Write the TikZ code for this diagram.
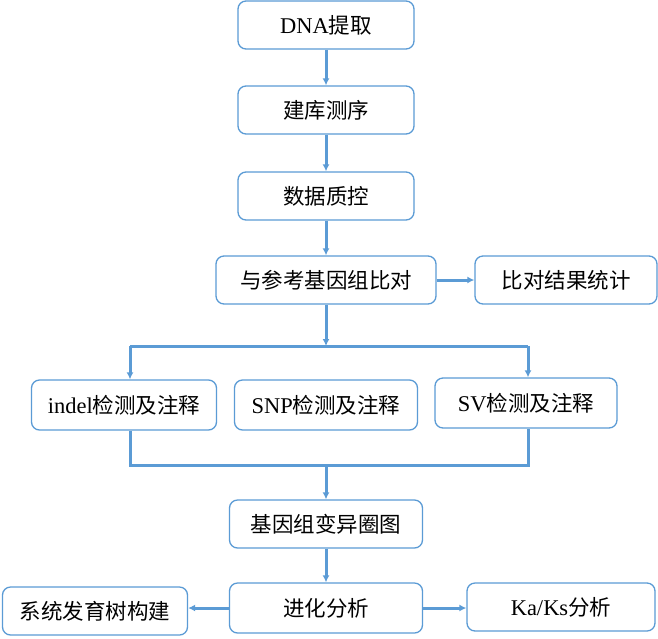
\documentclass[tikz,border=0pt]{standalone}
\usepackage{fontspec}
\setmainfont{Liberation Serif}
\newfontfamily\cjk{Noto Sans CJK SC}
\usetikzlibrary{arrows.meta}
\definecolor{flowblue}{RGB}{91,155,213}
\tikzset{
    stepbox/.style={draw=flowblue, line width=1.3pt, rounded corners=8pt, fill=white,
        minimum height=48pt, inner sep=0pt, font=\fontsize{22.5}{26}\selectfont},
    flow/.style={draw=flowblue, line width=3pt, -{Latex[length=7pt,width=7pt]}},
    link/.style={draw=flowblue, line width=3pt},
}

\begin{document}
\begin{tikzpicture}[x=1pt,y=-1pt]
    \useasboundingbox (0,0) rectangle (658,638);
    % main column
    \node[stepbox, minimum width=176pt] (dna) at (326,25) {DNA{\cjk\fontsize{21.5}{26}\selectfont 提取}};
    \node[stepbox, minimum width=176pt] (lib) at (326,110) {\cjk\fontsize{21.5}{26}\selectfont 建库测序};
    \node[stepbox, minimum width=176pt] (qc) at (326,196) {\cjk\fontsize{21.5}{26}\selectfont 数据质控};
    \node[stepbox, minimum width=220pt] (align) at (326,280) {\cjk\fontsize{21.5}{26}\selectfont 与参考基因组比对};
    \node[stepbox, minimum width=182pt] (stat) at (566,280) {\cjk\fontsize{21.5}{26}\selectfont 比对结果统计};
    % variant calling
    \node[stepbox, minimum width=185pt, minimum height=50pt] (indel) at (124,405) {indel{\cjk\fontsize{21.5}{26}\selectfont 检测及注释}};
    \node[stepbox, minimum width=183pt, minimum height=50pt] (snp) at (326,405) {SNP{\cjk\fontsize{21.5}{26}\selectfont 检测及注释}};
    \node[stepbox, minimum width=182pt, minimum height=50pt] (sv) at (526,403) {SV{\cjk\fontsize{21.5}{26}\selectfont 检测及注释}};
    \coordinate (split) at (326,346);
    \coordinate (splitL) at (130,346);
    \coordinate (splitR) at (528,346);
    \coordinate (merge) at (326,465);
    % downstream
    \node[stepbox, minimum width=193pt] (circos) at (326,524) {\cjk\fontsize{21.5}{26}\selectfont 基因组变异圈图};
    \node[stepbox, minimum width=193pt, minimum height=50pt] (evol) at (326,608) {\cjk\fontsize{21.5}{26}\selectfont 进化分析};
    \node[stepbox, minimum width=185pt] (tree) at (95,611) {\cjk\fontsize{21.5}{26}\selectfont 系统发育树构建};
    \node[stepbox, minimum width=188pt] (kaks) at (561,607) {Ka/Ks{\cjk\fontsize{21.5}{26}\selectfont 分析}};
    % connectors
    \draw[flow] (dna) -- (lib);
    \draw[flow] (lib) -- (qc);
    \draw[flow] (qc) -- (align);
    \draw[flow] (align) -- (stat);
    \draw[flow] (align) -- (split);
    \draw[link] (splitL) -- (splitR);
    \draw[flow] (splitL) -- (splitL |- indel.north);
    \draw[flow] (splitR) -- (splitR |- sv.north);
    \draw[link] (splitL |- indel.south) |- (merge) -| (splitR |- sv.south);
    \draw[flow] (merge) -- (circos);
    \draw[flow] (circos) -- (evol);
    \draw[flow] (evol.west) -- (evol.west -| tree.east);
    \draw[flow] (evol.east) -- (evol.east -| kaks.west);
\end{tikzpicture}
\end{document}
